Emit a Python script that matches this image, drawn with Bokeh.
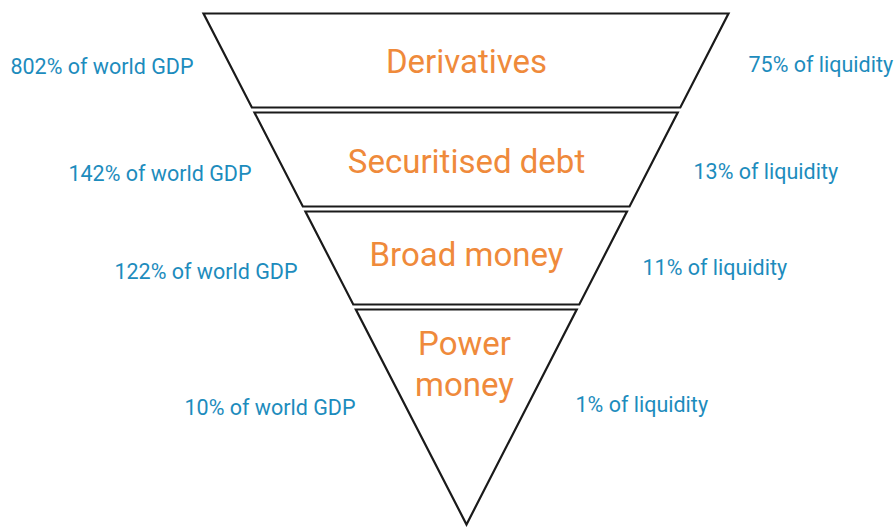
from bokeh.plotting import figure
from bokeh.models import Range1d
from bokeh.core.properties import value
from bokeh.embed import file_html
from bokeh.resources import INLINE

# ---- data ----
categories = ["Derivatives", "Securitised debt", "Broad money", "Power\nmoney"]
gdp_labels = ["802% of world GDP", "142% of world GDP", "122% of world GDP", "10% of world GDP"]
liq_labels = ["75% of liquidity", "13% of liquidity", "11% of liquidity", "1% of liquidity"]

# band extents (vertical, in page pixels)
band_top = [13, 112, 211, 309]
band_bottom = [107, 206, 304, 524]

# funnel outline (one inverted triangle cut into bands)
tri_left, tri_right, tri_top = 203, 728, 13
apex_x, apex_y = 466, 524

# label layout
cat_x = [466, 466, 466, 464]
cat_y = [61, 161, 254, 343]
gdp_x = [193, 251, 297, 355]
gdp_y = [66, 173, 271, 407]
liq_x = [748, 693, 642, 575]
liq_y = [64, 171, 267, 404]

ORANGE = "#EF8A3B"
BLUE = "#1D8CBD"
LINE = "#1a1a1a"
FONT = "Roboto"
W, H = 894, 527


def edge_x(y, x0):
    t = (y - tri_top) / (apex_y - tri_top)
    return x0 + (apex_x - x0) * t


xs, ys = [], []
for t, b in zip(band_top, band_bottom):
    xs.append([edge_x(t, tri_left), edge_x(t, tri_right), edge_x(b, tri_right), edge_x(b, tri_left)])
    ys.append([t, t, b, b])

p = figure(width=W, height=H, output_backend="svg", toolbar_location=None,
           x_range=Range1d(0, W), y_range=Range1d(H, 0), min_border=0)
p.axis.visible = False
p.grid.visible = False
p.outline_line_color = None
p.background_fill_color = "white"

p.patches(xs, ys, fill_color="white", line_color=LINE, line_width=2.2, line_join="miter")

# category labels (Power money split into two lines)
cat_lines_x, cat_lines_y, cat_lines_t = [], [], []
for cx, cy, c in zip(cat_x, cat_y, categories):
    for i, line in enumerate(c.split("\n")):
        cat_lines_x.append(cx)
        cat_lines_y.append(cy + i * 41)
        cat_lines_t.append(line)

p.text(x=cat_lines_x, y=cat_lines_y, text=cat_lines_t, text_color=ORANGE,
       text_font=value(FONT), text_font_size="33px", text_align="center",
       text_baseline="alphabetic")

p.text(x=gdp_x, y=gdp_y, text=gdp_labels, text_color=BLUE, text_font=value(FONT),
       text_font_size="21.5px", text_align="right", text_baseline="alphabetic")

p.text(x=liq_x, y=liq_y, text=liq_labels, text_color=BLUE, text_font=value(FONT),
       text_font_size="21.5px", text_align="left", text_baseline="alphabetic")

open("out.html", "w").write(file_html(p, INLINE))
